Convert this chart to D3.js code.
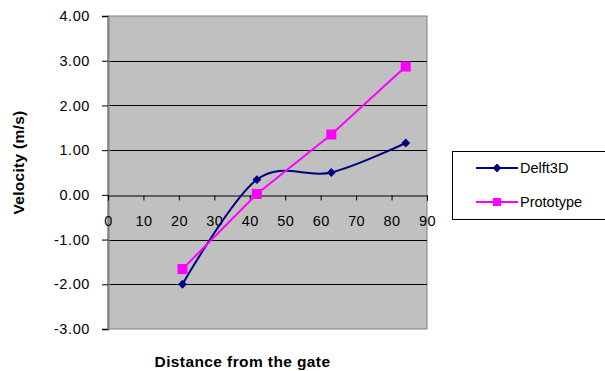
<!DOCTYPE html>
<html>
<head>
<meta charset="utf-8">
<script src="https://cdn.jsdelivr.net/npm/d3@7"></script>
<style>
  html, body { margin: 0; padding: 0; background: #fff; }
  svg { display: block; font-family: "Liberation Sans", Arial, sans-serif; }
</style>
</head>
<body>
<svg id="chart" width="605" height="371"></svg>
<script>
// Measured velocities along the channel
const distances = [21, 42, 63, 84];
const delft3d = [-2.00, 0.34, 0.50, 1.16];
const prototype = [-1.66, 0.02, 1.35, 2.87];
const xTicks = [0, 10, 20, 30, 40, 50, 60, 70, 80, 90];
const yTicks = [-3, -2, -1, 0, 1, 2, 3, 4];
const seriesNames = ["Delft3D", "Prototype"];

const svg = d3.select("#chart");
const plot = { left: 108, right: 427, top: 16, bottom: 329 };
const labelFont = 14.5;
const titleFont = 15.5;

const x = d3.scaleLinear().domain([0, 90]).range([plot.left, plot.right]);
const y = d3.scaleLinear().domain([-3, 4]).range([plot.bottom, plot.top]);

// Plot area
svg.append("rect")
  .attr("x", plot.left).attr("y", plot.top)
  .attr("width", plot.right - plot.left).attr("height", plot.bottom - plot.top)
  .attr("fill", "#c0c0c0").attr("stroke", "#808080").attr("stroke-width", 1);

// Horizontal gridlines
svg.append("g").selectAll("line")
  .data(yTicks.filter(v => v > -3 && v < 4 && v !== 0))
  .join("line")
  .attr("x1", plot.left).attr("x2", plot.right)
  .attr("y1", d => Math.round(y(d)) + 0.5).attr("y2", d => Math.round(y(d)) + 0.5)
  .attr("stroke", "#000").attr("stroke-width", 1);

// Y axis
const yAxis = d3.axisLeft(y).tickValues(yTicks).tickSize(6).tickPadding(12)
  .tickFormat(d3.format(".2f"));
const gy = svg.append("g").attr("transform", `translate(${plot.left},0)`).call(yAxis);
gy.select(".domain").attr("stroke", "#808080").attr("stroke-width", 2);
gy.selectAll(".tick line").attr("stroke", "#000");
gy.selectAll(".tick text").attr("font-size", labelFont).attr("fill", "#000")
  .attr("letter-spacing", 0.6)
  .attr("font-family", "Liberation Sans, Arial, sans-serif")
  .text(d => d3.format(".2f")(d).replace("−", "-"));

// X axis at zero
const xAxis = d3.axisBottom(x).tickValues(xTicks).tickSize(5).tickPadding(15);
const gx = svg.append("g").attr("transform", `translate(0,${Math.round(y(0)) + 0.5})`).call(xAxis);
gx.select(".domain").attr("stroke", "#000").attr("stroke-width", 1);
gx.selectAll(".tick line").attr("stroke", "#000");
gx.selectAll(".tick text").attr("font-size", labelFont).attr("fill", "#000")
  .attr("letter-spacing", 0.4)
  .attr("font-family", "Liberation Sans, Arial, sans-serif");

// Series
const delftPts = distances.map((d, i) => [d, delft3d[i]]);
const protoPts = distances.map((d, i) => [d, prototype[i]]);

svg.append("path").datum(delftPts)
  .attr("fill", "none").attr("stroke", "#000080").attr("stroke-width", 2)
  .attr("d", d3.line().x(d => x(d[0])).y(d => y(d[1])).curve(d3.curveCatmullRom.alpha(0)));

svg.append("path").datum(protoPts)
  .attr("fill", "none").attr("stroke", "#ff00ff").attr("stroke-width", 2)
  .attr("d", d3.line().x(d => x(d[0])).y(d => y(d[1])));

const diamond = d3.symbol().type(d3.symbolDiamond2).size(50);
svg.append("g").selectAll("path").data(delftPts).join("path")
  .attr("d", diamond)
  .attr("transform", d => `translate(${x(d[0])},${y(d[1])})`)
  .attr("fill", "#000080");

svg.append("g").selectAll("rect").data(protoPts).join("rect")
  .attr("x", d => x(d[0]) - 5).attr("y", d => y(d[1]) - 5)
  .attr("width", 10).attr("height", 10)
  .attr("fill", "#ff00ff");

// Axis titles
svg.append("text")
  .attr("transform", "translate(24,162.5) rotate(-90)")
  .attr("text-anchor", "middle").attr("font-size", titleFont).attr("font-weight", "bold")
  .attr("letter-spacing", 0.3)
  .text("Velocity (m/s)");

svg.append("text")
  .attr("x", 242.5).attr("y", 366.5)
  .attr("text-anchor", "middle").attr("font-size", titleFont).attr("font-weight", "bold")
  .attr("letter-spacing", 0.4)
  .text("Distance from the gate");

// Legend
const legend = svg.append("g");
legend.append("rect")
  .attr("x", 452.5).attr("y", 151.5).attr("width", 160).attr("height", 68)
  .attr("fill", "#fff").attr("stroke", "#000");

const legendRows = [
  { name: seriesNames[0], color: "#000080", y: 168, marker: "diamond" },
  { name: seriesNames[1], color: "#ff00ff", y: 202, marker: "square" }
];
legendRows.forEach(r => {
  legend.append("line")
    .attr("x1", 476).attr("x2", 518).attr("y1", r.y).attr("y2", r.y)
    .attr("stroke", r.color).attr("stroke-width", 2);
  if (r.marker === "diamond") {
    legend.append("path").attr("d", diamond)
      .attr("transform", `translate(497,${r.y})`).attr("fill", r.color);
  } else {
    legend.append("rect").attr("x", 493).attr("y", r.y - 4)
      .attr("width", 8).attr("height", 8).attr("fill", r.color);
  }
  legend.append("text")
    .attr("x", 520).attr("y", r.y + 5)
    .attr("font-size", labelFont).text(r.name);
});
</script>
</body>
</html>
